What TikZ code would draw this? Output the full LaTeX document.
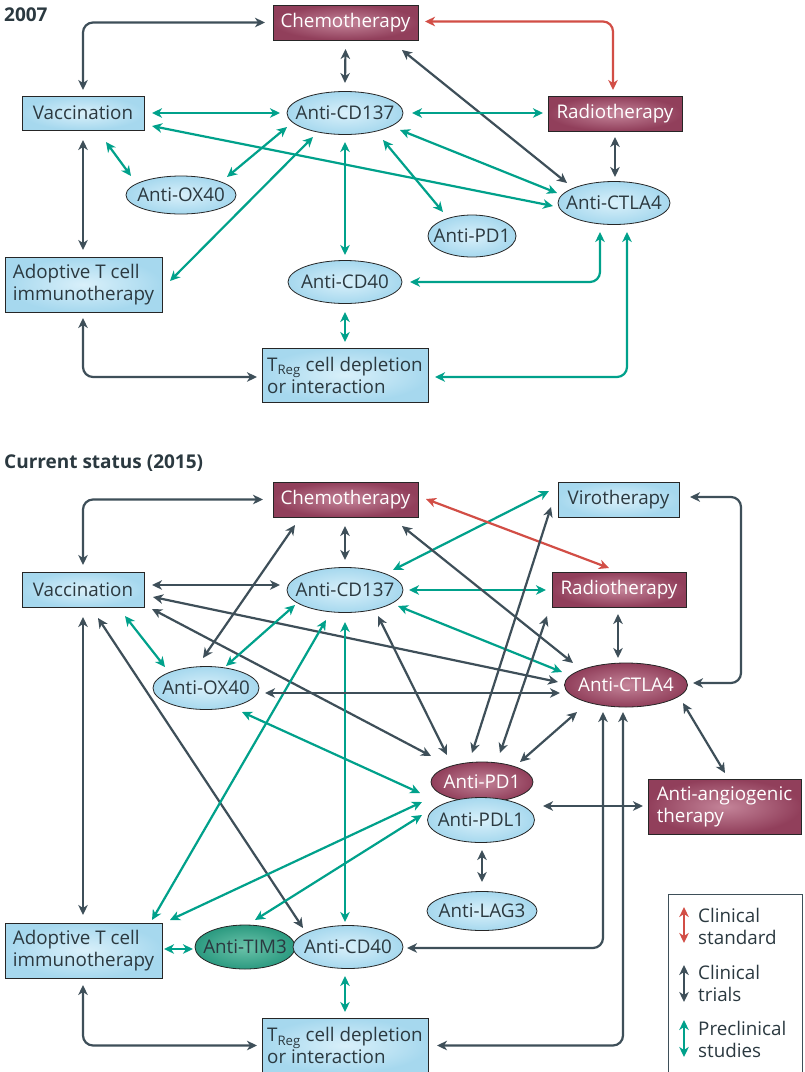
\documentclass[tikz,border=0pt]{standalone}
\usepackage{fontspec}
\setmainfont{Open Sans}
\usetikzlibrary{arrows.meta,calc,shapes.geometric}
\definecolor{cDark}{HTML}{3E4F59}
\definecolor{cTeal}{HTML}{00A18B}
\definecolor{cRed}{HTML}{D24E46}
\definecolor{blueIn}{HTML}{D9F0FA}
\definecolor{blueOut}{HTML}{A6D8EE}
\definecolor{marIn}{HTML}{C48499}
\definecolor{marOut}{HTML}{913F5B}
\definecolor{timIn}{HTML}{6CC3AA}
\definecolor{timOut}{HTML}{2B9A80}
\definecolor{txt}{HTML}{2B3940}
\newcommand{\zw}[1]{\makebox[0pt]{#1}}
\tikzset{
  lbl/.style={font=\fontsize{18.8}{22}\selectfont},
  boxnode/.style={lbl, rectangle, draw=black!85, line width=0.8pt, shading=radial,
    inner color=blueIn, outer color=blueOut, text=txt, inner sep=0pt, align=left},
  mboxnode/.style={boxnode, inner color=marIn, outer color=marOut, text=white},
  ovalnode/.style={lbl, ellipse, draw=black!85, line width=0.8pt, shading=radial,
    inner color=blueIn, outer color=blueOut, text=txt, inner sep=0pt},
  movalnode/.style={ovalnode, inner color=marIn, outer color=marOut, text=white},
  tovalnode/.style={ovalnode, inner color=timIn, outer color=timOut, text=txt},
  con/.style={line width=2.2pt,
    arrows={Stealth[length=10pt,width=9.5pt,inset=3pt]-Stealth[length=10pt,width=9.5pt,inset=3pt]}},
  dkc/.style={con, draw=cDark},
  tlc/.style={con, draw=cTeal},
  rdc/.style={con, draw=cRed},
  rc/.style={rounded corners=10pt},
  title/.style={anchor=west, inner sep=0pt, text=txt, font=\bfseries\fontsize{19}{22}\selectfont}
}
\begin{document}
\begin{tikzpicture}[x=1pt,y=-1pt]
\useasboundingbox (0,0) rectangle (805,1072);
\fill[white] (0,0) rectangle (805,1072);

% ================= 2007 =================
\node[title] (t1) at (4,15) {2007};
\node[mboxnode, minimum width=145pt, minimum height=35pt] (chemoA) at (345.5,22.5) {Chemotherapy};
\node[mboxnode, minimum width=134pt, minimum height=35pt] (radioA) at (615,113.5) {Radiotherapy};
\node[boxnode, minimum width=122pt, minimum height=34pt] (vacA) at (83,113) {Vaccination};
\node[ovalnode, minimum width=116pt, minimum height=43pt] (cd137A) at (345,113) {\zw{Anti-CD137}};
\node[ovalnode, minimum width=110pt, minimum height=38pt] (ox40A) at (181,195) {\zw{Anti-OX40}};
\node[ovalnode, minimum width=88pt, minimum height=42pt] (pd1A) at (472,236) {\zw{Anti-PD1}};
\node[ovalnode, minimum width=112pt, minimum height=43pt] (ctla4A) at (614,203) {\zw{Anti-CTLA4}};
\node[ovalnode, minimum width=114pt, minimum height=43pt] (cd40A) at (345,282) {\zw{Anti-CD40}};
\node[boxnode, minimum width=157pt, minimum height=55pt] (adoptA) at (83.5,284.5) {Adoptive T cell\\immunotherapy};
\node[boxnode, minimum width=166pt, minimum height=54pt] (tregA) at (345,375) {T\textsubscript{Reg} cell depletion\\or interaction};

\draw[dkc, rc] ($(chemoA)+(-80.5,0)$) -| ($(vacA)+(0,-23)$);
\draw[rdc, rc] ($(chemoA)+(79.5,-1)$) -| ($(radioA)+(-2,-23.5)$);
\draw[dkc] ($(chemoA)+(0,26.5)$) -- ($(cd137A)+(0,-30)$);
\draw[dkc] ($(chemoA)+(56.5,27.5)$) -- ($(ctla4A)+(-47,-20)$);
\draw[tlc] ($(vacA)+(69,0)$) -- ($(cd137A)+(-65,0)$);
\draw[tlc] ($(cd137A)+(67,0)$) -- ($(radioA)+(-72,-0.5)$);
\draw[tlc] ($(vacA)+(69,13)$) -- ($(ctla4A)+(-61,3)$);
\draw[tlc] ($(cd137A)+(55,17)$) -- ($(ctla4A)+(-57,-10)$);
\draw[tlc] ($(cd137A)+(38,27)$) -- ($(pd1A)+(-29,-24)$);
\draw[tlc] ($(vacA)+(23,29)$) -- ($(ox40A)+(-50,-19)$);
\draw[tlc] ($(cd137A)+(-58,14)$) -- ($(ox40A)+(46,-18)$);
\draw[tlc] ($(cd137A)+(-32,24)$) -- ($(adoptA)+(86.5,-3.5)$);
\draw[tlc] ($(cd137A)+(0,29)$) -- ($(cd40A)+(0,-27)$);
\draw[dkc] ($(vacA)+(0,27)$) -- ($(adoptA)+(-0.5,-34.5)$);
\draw[tlc] ($(cd40A)+(0,30)$) -- ($(tregA)+(0,-33)$);
\draw[dkc, rc] ($(adoptA)+(-0.5,33.5)$) |- ($(tregA)+(-88,2)$);
\draw[tlc, rc] ($(cd40A)+(65,0)$) -| ($(ctla4A)+(-14,29)$);
\draw[tlc, rc] ($(tregA)+(90,2)$) -| ($(ctla4A)+(13,29)$);
\draw[dkc] ($(radioA)+(0,23.5)$) -- ($(ctla4A)+(1,-26)$);

% ================= 2015 =================
\node[title] (t2) at (4,463) {Current status (2015)};
\node[mboxnode, minimum width=145pt, minimum height=35pt] (chemoB) at (345.5,499.5) {Chemotherapy};
\node[boxnode, minimum width=121pt, minimum height=35pt] (viroB) at (618.5,499.5) {Virotherapy};
\node[mboxnode, minimum width=134pt, minimum height=35pt] (radioB) at (619,589.5) {Radiotherapy};
\node[boxnode, minimum width=122pt, minimum height=35pt] (vacB) at (83,589.5) {Vaccination};
\node[ovalnode, minimum width=116pt, minimum height=45pt] (cd137B) at (345,590) {\zw{Anti-CD137}};
\node[ovalnode, minimum width=106pt, minimum height=43pt] (ox40B) at (206,688) {\zw{Anti-OX40}};
\node[movalnode, minimum width=123pt, minimum height=44pt] (ctla4B) at (626,685) {\zw{Anti-CTLA4}};
\node[movalnode, minimum width=102pt, minimum height=40pt] (pd1B) at (482,782) {\zw{Anti-PD1}};
\node[ovalnode, minimum width=107pt, minimum height=45pt] (pdl1B) at (481,820) {\zw{Anti-PDL1}};
\node[mboxnode, minimum width=153pt, minimum height=55pt] (angioB) at (724.5,806.5) {Anti-angiogenic\\therapy};
\node[ovalnode, minimum width=110pt, minimum height=39pt] (lag3B) at (482,911) {\zw{Anti-LAG3}};
\node[boxnode, minimum width=157pt, minimum height=55pt] (adoptB) at (83.5,950.5) {Adoptive T cell\\immunotherapy};
\node[tovalnode, minimum width=100pt, minimum height=44pt] (tim3B) at (245,947) {\zw{Anti-TIM3}};
\node[ovalnode, minimum width=110pt, minimum height=43pt] (cd40B) at (348,947) {\zw{Anti-CD40}};
\node[boxnode, minimum width=166pt, minimum height=55pt] (tregB) at (345,1045.5) {T\textsubscript{Reg} cell depletion\\or interaction};

\draw[dkc, rc] ($(chemoB)+(-82.5,0)$) -| ($(vacB)+(0,-24.5)$);
\draw[dkc] ($(vacB)+(69,-4.5)$) -- ($(cd137B)+(-65,-5)$);
\draw[dkc] ($(vacB)+(70,7.5)$) -- ($(ctla4B)+(-68,-3)$);
\draw[dkc] ($(vacB)+(69,19.5)$) -- ($(pd1B)+(-51,-26)$);
\draw[dkc] ($(vacB)+(0,27.5)$) -- ($(adoptB)+(-0.5,-35.5)$);
\draw[dkc] ($(vacB)+(15,28.5)$) -- ($(cd40B)+(-45,-19)$);
\draw[tlc] ($(vacB)+(42,26.5)$) -- ($(ox40B)+(-41,-21)$);
\draw[dkc] ($(chemoB)+(-50.5,25.5)$) -- ($(ox40B)+(-3,-30)$);
\draw[tlc] ($(cd137B)+(-50,15)$) -- ($(ox40B)+(20,-22)$);
\draw[tlc] ($(cd137B)+(-19,30)$) -- ($(adoptB)+(68.5,-30.5)$);
\draw[tlc] ($(cd137B)+(0,32)$) -- ($(cd40B)+(-3,-25)$);
\draw[dkc] ($(chemoB)+(-0.5,26.5)$) -- ($(cd137B)+(0,-30)$);
\draw[tlc] ($(cd137B)+(64,0)$) -- ($(radioB)+(-73,0.5)$);
\draw[tlc] ($(cd137B)+(53,16)$) -- ($(ctla4B)+(-64,-13)$);
\draw[tlc] ($(viroB)+(-69.5,-8.5)$) -- ($(cd137B)+(48,-20)$);
\draw[rdc] ($(chemoB)+(80.5,-0.5)$) -- ($(radioB)+(-10,-21.5)$);
\draw[dkc] ($(chemoB)+(56.5,26.5)$) -- ($(ctla4B)+(-53,-22)$);
\draw[dkc] ($(viroB)+(-67.5,7.5)$) -- ($(pd1B)+(-10,-29)$);
\draw[dkc] ($(cd137B)+(33,26)$) -- ($(pd1B)+(-35,-27)$);
\draw[dkc] ($(radioB)+(-72,26.5)$) -- ($(pd1B)+(18,-29)$);
\draw[dkc] ($(ctla4B)+(-49,27)$) -- ($(pd1B)+(38,-20)$);
\draw[dkc] ($(radioB)+(-1,24.5)$) -- ($(ctla4B)+(-8,-27)$);
\draw[dkc, rc] ($(viroB)+(71.5,-2.5)$) -| ($(ctla4B)+(115,-2)$) -- ($(ctla4B)+(67,-2)$);
\draw[dkc] ($(ox40B)+(59,5)$) -- ($(ctla4B)+(-66,8)$);
\draw[tlc] ($(ox40B)+(36,24)$) -- ($(pdl1B)+(-61,-27)$);
\draw[tlc] ($(adoptB)+(86.5,-30.5)$) -- ($(pdl1B)+(-59,-18)$);
\draw[tlc] ($(tim3B)+(10,-27)$) -- ($(pdl1B)+(-59,-5)$);
\draw[dkc] ($(pdl1B)+(62,-14)$) -- ($(angioB)+(-81.5,-0.5)$);
\draw[dkc] ($(pdl1B)+(1,30)$) -- ($(lag3B)+(0,-29)$);
\draw[dkc] ($(ctla4B)+(57,18)$) -- ($(angioB)+(0.5,-33.5)$);
\draw[dkc, rc] ($(cd40B)+(59,1)$) -| ($(ctla4B)+(-23,27)$);
\draw[dkc, rc] ($(tregB)+(92,0)$) -| ($(ctla4B)+(-3,27)$);
\draw[dkc, rc] ($(adoptB)+(-0.5,34.5)$) |- ($(tregB)+(-88,0)$);
\draw[tlc] ($(adoptB)+(80.5,-1.5)$) -- ($(tim3B)+(-52,2)$);
\draw[tlc] ($(cd40B)+(-3,29)$) -- ($(tregB)+(0,-33.5)$);

% ================= legend =================
\node[draw=cDark, line width=0.9pt, fill=white, minimum width=134pt, minimum height=182pt, inner sep=0pt] (legend) at (735,985) {};
\coordinate (la1) at (684,907); \coordinate (lb1) at (684,943);
\coordinate (la2) at (684,965); \coordinate (lb2) at (684,1002);
\coordinate (la3) at (684,1020); \coordinate (lb3) at (684,1057);
\draw[rdc, line width=2pt] (la1) -- (lb1);
\draw[dkc, line width=2pt] (la2) -- (lb2);
\draw[tlc, line width=2pt] (la3) -- (lb3);
\node[lbl, anchor=west, align=left, text=txt, inner sep=0pt] (lt1) at (698,926) {Clinical\\standard};
\node[lbl, anchor=west, align=left, text=txt, inner sep=0pt] (lt2) at (698,983) {Clinical\\trials};
\node[lbl, anchor=west, align=left, text=txt, inner sep=0pt] (lt3) at (698,1039) {Preclinical\\studies};
\end{tikzpicture}
\end{document}
